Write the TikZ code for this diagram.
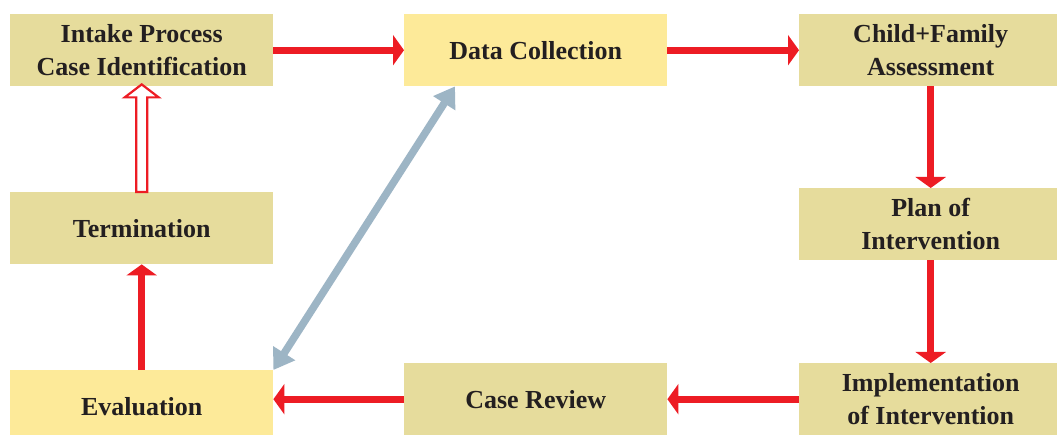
\documentclass[tikz,border=0pt]{standalone}
\usepackage{fontspec}
\setmainfont{Liberation Serif}
\usetikzlibrary{arrows.meta,calc}
\definecolor{boxkhaki}{RGB}{230,220,156}
\definecolor{boxyellow}{RGB}{253,234,153}
\definecolor{flowred}{RGB}{237,28,36}
\definecolor{linkblue}{RGB}{157,181,197}
\definecolor{inkdark}{RGB}{35,31,32}
\tikzset{
  stage/.style={fill=boxkhaki, minimum width=263pt, minimum height=72pt,
    inner sep=0pt, anchor=north west, align=center, text=inkdark,
    font=\fontsize{26}{33}\selectfont\bfseries},
  stagelight/.style={stage, fill=boxyellow},
  flow/.style={draw=flowred, line width=7pt, -{Triangle[width=30pt,length=11pt]}},
  link/.style={draw=linkblue, line width=7.5pt,
    {Triangle[width=25pt,length=20pt]}-{Triangle[width=25pt,length=20pt]}},
  hollow/.style={draw=flowred, line width=2.2pt, fill=white, line join=miter},
}
\begin{document}
\begin{tikzpicture}[x=1pt,y=-1pt]
\clip (0,0) rectangle (1057,435);
\fill[white] (0,0) rectangle (1057,435);

% stages of the case process
\node[stage]      (intake) at (10,14)   {Intake Process\\Case Identification};
\node[stagelight] (data)   at (404,14)  {Data Collection};
\node[stage]      (assess) at (799,14)  {Child+Family\\Assessment};
\node[stage]      (term)   at (10,192)  {Termination};
\node[stage]      (plan)   at (799,188) {Plan of\\Intervention};
\node[stagelight] (eval)   at (10,370)  {Evaluation};
\node[stage]      (review) at (404,363) {Case Review};
\node[stage]      (impl)   at (799,363) {Implementation\\of Intervention};

% main flow
\draw[flow] (intake.east) -- (data.west);
\draw[flow] (data.east) -- (assess.west);
\draw[flow] (assess.south) -- (plan.north);
\draw[flow] (plan.south) -- (impl.north);
\draw[flow] (impl.west) -- (review.east);
\draw[flow] (review.west) -- (review.west -| eval.east);
\draw[flow] (eval.north) -- (term.south);

% hollow return arrow back to intake
\path[hollow] let \p1=(term.north), \p2=(intake.south) in
  (\x1-5.5pt,\y1) -- (\x1-5.5pt,\y2-11pt) -- (\x1-17pt,\y2-11pt) --
  (\x1,\y2+2pt) -- (\x1+17pt,\y2-11pt) -- (\x1+5.5pt,\y2-11pt) --
  (\x1+5.5pt,\y1) -- cycle;

% feedback between data collection and evaluation
\coordinate (dataport) at ($(data.south west)+(51,0)$);
\draw[link] (dataport) -- (eval.north east);
\end{tikzpicture}
\end{document}
